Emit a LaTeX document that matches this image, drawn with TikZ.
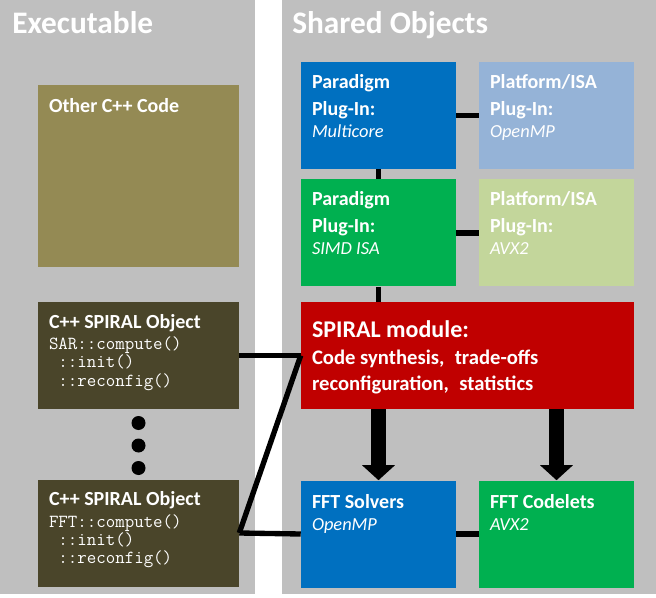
\documentclass[tikz,border=0pt]{standalone}
\usepackage{fontspec}
\setmainfont{Carlito}
\usetikzlibrary{arrows.meta}
\definecolor{panelgray}{RGB}{191,191,191}
\definecolor{otherolive}{RGB}{148,138,84}
\definecolor{objdark}{RGB}{74,69,42}
\definecolor{plugblue}{RGB}{0,112,192}
\definecolor{isablue}{RGB}{149,179,215}
\definecolor{pluggreen}{RGB}{0,176,80}
\definecolor{isagreen}{RGB}{195,214,155}
\definecolor{spiralred}{RGB}{192,0,0}
\tikzset{
  box/.style={inner sep=0pt,minimum width=116.25pt,minimum height=80.25pt},
  exebox/.style={box,minimum width=150.75pt},
  title/.style={anchor=base west,inner sep=0pt,text=white,font=\fontsize{23.5}{28}\selectfont\bfseries},
  txt/.style={anchor=north west,inner sep=0pt,align=left,text=white,font=\fontsize{15}{20.25}\selectfont\bfseries},
  code/.style={anchor=north west,inner sep=0pt,align=left,text=white,font=\fontsize{13.8}{13.6}\selectfont\ttfamily},
  dot/.style={circle,fill=black,inner sep=0pt,minimum size=10.5pt},
  link/.style={line width=4pt},
  fat/.style={line width=11.25pt,-{Triangle[width=24pt,length=11.25pt]}},
}
\newcommand{\sub}[1]{{\fontsize{13.8}{16}\selectfont\mdseries\itshape #1}}

\begin{document}
\begin{tikzpicture}[x=0.75pt,y=-0.75pt]
\useasboundingbox (0,0) rectangle (656,598);
\fill[panelgray] (0,0) rectangle (255,594);
\fill[panelgray] (282,0) rectangle (656,594);
\node[title] (exe) at (12,34) {Executable};
\node[title] (shared) at (292,34) {Shared Objects};

\node[exebox,fill=otherolive,minimum height=136.5pt] (other) at (138.5,176) {};
\node[exebox,fill=objdark] (sar) at (138.5,355.5) {};
\node[exebox,fill=objdark] (fftobj) at (138.5,533) {};
\node[box,fill=plugblue] (multi) at (378.5,115.5) {};
\node[box,fill=isablue] (openmp) at (556.5,115.5) {};
\node[box,fill=pluggreen] (simd) at (378.5,233) {};
\node[box,fill=isagreen] (avx) at (556.5,233) {};
\node[box,fill=spiralred,minimum width=249.75pt] (spiral) at (467.5,355.5) {};
\node[box,fill=plugblue] (solvers) at (378.5,534) {};
\node[box,fill=pluggreen] (codelets) at (556.5,534) {};
\foreach \y [count=\i] in {423,445.5,468}
  \node[dot] (dot\i) at (138.5,\y) {};

\node[txt] (othert) at ([shift={(11,13)}]other.north west) {Other C++ Code};
\node[txt] (sart) at ([shift={(11,12)}]sar.north west) {C++ SPIRAL Object};
\node[code] (sarc) at ([shift={(11,35)}]sar.north west) {SAR::compute()\\\hphantom{S}::init()\\\hphantom{S}::reconfig()};
\node[txt] (fftt) at ([shift={(11,12)}]fftobj.north west) {C++ SPIRAL Object};
\node[code] (fftc) at ([shift={(11,35)}]fftobj.north west) {FFT::compute()\\\hphantom{S}::init()\\\hphantom{S}::reconfig()};
\node[txt] (multit) at ([shift={(11,12)}]multi.north west) {Paradigm\\Plug-In:\\[-3.75pt]\sub{Multicore}};
\node[txt] (openmpt) at ([shift={(11,12)}]openmp.north west) {Platform/ISA\\Plug-In:\\[-3.75pt]\sub{OpenMP}};
\node[txt] (simdt) at ([shift={(11,12)}]simd.north west) {Paradigm\\Plug-In:\\[-3.75pt]\sub{SIMD ISA}};
\node[txt] (avxt) at ([shift={(11,12)}]avx.north west) {Platform/ISA\\Plug-In:\\[-3.75pt]\sub{AVX2}};
\node[txt,font=\fontsize{15.5}{19}\selectfont\bfseries] (spiralt) at ([shift={(11,19)}]spiral.north west)
  {{\fontsize{18}{19}\selectfont SPIRAL module:}\\[1.25pt]Code synthesis,\enspace trade-offs\\reconfiguration,\enspace statistics};
\node[txt] (solverst) at ([shift={(11,14)}]solvers.north west) {FFT Solvers\\[-3.75pt]\sub{OpenMP}};
\node[txt] (codeletst) at ([shift={(11,14)}]codelets.north west) {FFT Codelets\\[-3.75pt]\sub{AVX2}};

\draw[link] (multi) -- (openmp);
\draw[link] (simd) -- (avx);
\draw[link] (solvers) -- (codelets);
\draw[link] (multi) -- (simd);
\draw[link] (simd.south) -- (simd.south |- spiral.north);
\draw[link] (sar.east) -- (spiral.west);
\draw[link] (fftobj.east) -- (spiral.west);
\draw[link] (fftobj.east) -- (solvers.west);
\draw[fat] (solvers.north |- spiral.south) -- (solvers.north);
\draw[fat] (codelets.north |- spiral.south) -- (codelets.north);
\end{tikzpicture}
\end{document}
